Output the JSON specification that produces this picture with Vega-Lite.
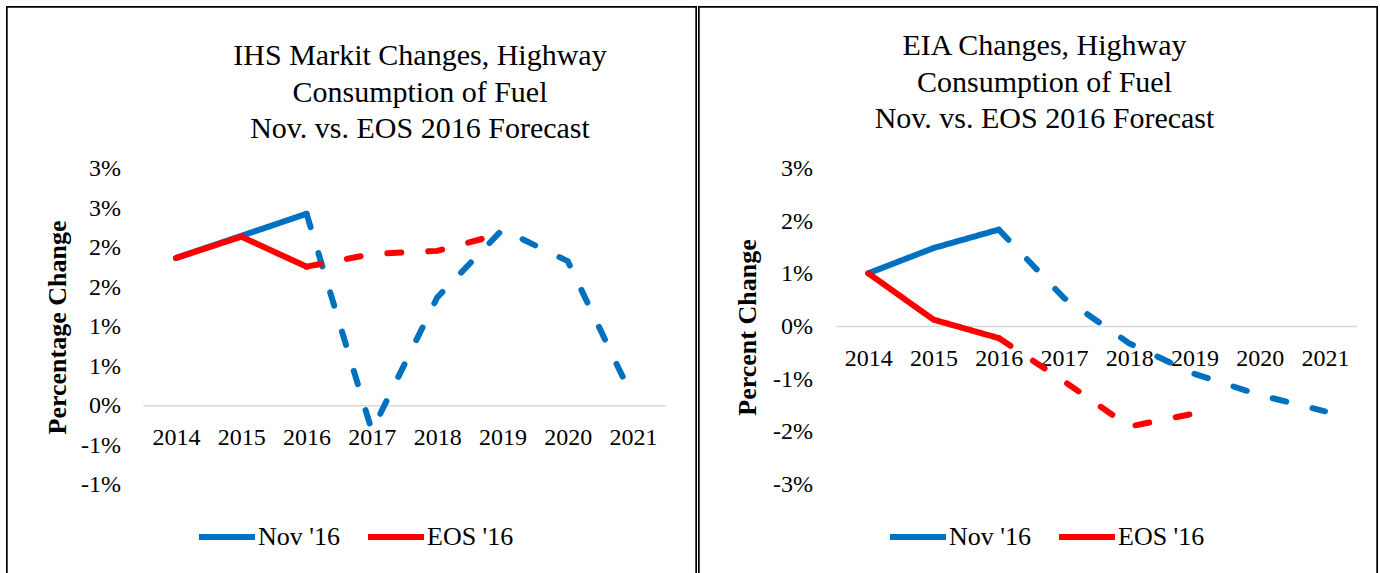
{
  "$schema": "https://vega.github.io/schema/vega-lite/v6.json",
  "background": "white",
  "padding": {"left": 6, "top": 6, "right": 2, "bottom": 0},
  "spacing": 1,
  "config": {
    "view": {"stroke": null},
    "font": "Liberation Serif",
    "axis": {"labelFont": "Liberation Serif", "titleFont": "Liberation Serif", "labelColor": "#000000", "titleColor": "#000000", "grid": false, "domain": false, "ticks": false, "tickSize": 0},
    "title": {"font": "Liberation Serif", "fontSize": 30, "fontWeight": "normal", "color": "#000000", "lineHeight": 36.5, "anchor": "middle", "frame": "group"},
    "legend": {"labelFont": "Liberation Serif", "labelColor": "#000000"}
  },
  "datasets": {
    "ihs": [
      {"series": "Nov '16", "part": "actual", "year": 2014, "value": 1.87},
      {"series": "Nov '16", "part": "actual", "year": 2015, "value": 2.15},
      {"series": "Nov '16", "part": "actual", "year": 2016, "value": 2.43},
      {"series": "Nov '16", "part": "forecast", "year": 2016, "value": 2.43},
      {"series": "Nov '16", "part": "forecast", "year": 2017, "value": -0.32},
      {"series": "Nov '16", "part": "forecast", "year": 2018, "value": 1.37},
      {"series": "Nov '16", "part": "forecast", "year": 2019, "value": 2.23},
      {"series": "Nov '16", "part": "forecast", "year": 2020, "value": 1.83},
      {"series": "Nov '16", "part": "forecast", "year": 2021, "value": 0.09},
      {"series": "EOS '16", "part": "actual", "year": 2014, "value": 1.87},
      {"series": "EOS '16", "part": "actual", "year": 2015, "value": 2.14},
      {"series": "EOS '16", "part": "actual", "year": 2016, "value": 1.76},
      {"series": "EOS '16", "part": "forecast", "year": 2016, "value": 1.76},
      {"series": "EOS '16", "part": "forecast", "year": 2017, "value": 1.92},
      {"series": "EOS '16", "part": "forecast", "year": 2018, "value": 1.96},
      {"series": "EOS '16", "part": "forecast", "year": 2019, "value": 2.18}
    ],
    "eia": [
      {"series": "Nov '16", "part": "actual", "year": 2014, "value": 1.01},
      {"series": "Nov '16", "part": "actual", "year": 2015, "value": 1.49},
      {"series": "Nov '16", "part": "actual", "year": 2016, "value": 1.84},
      {"series": "Nov '16", "part": "forecast", "year": 2016, "value": 1.84},
      {"series": "Nov '16", "part": "forecast", "year": 2017, "value": 0.54},
      {"series": "Nov '16", "part": "forecast", "year": 2018, "value": -0.32},
      {"series": "Nov '16", "part": "forecast", "year": 2019, "value": -0.90},
      {"series": "Nov '16", "part": "forecast", "year": 2020, "value": -1.30},
      {"series": "Nov '16", "part": "forecast", "year": 2021, "value": -1.61},
      {"series": "EOS '16", "part": "actual", "year": 2014, "value": 1.01},
      {"series": "EOS '16", "part": "actual", "year": 2015, "value": 0.13},
      {"series": "EOS '16", "part": "actual", "year": 2016, "value": -0.22},
      {"series": "EOS '16", "part": "forecast", "year": 2016, "value": -0.22},
      {"series": "EOS '16", "part": "forecast", "year": 2017, "value": -1.04},
      {"series": "EOS '16", "part": "forecast", "year": 2018, "value": -1.90},
      {"series": "EOS '16", "part": "forecast", "year": 2019, "value": -1.65}
    ]
  },
  "resolve": {"scale": {"x": "independent", "y": "independent", "color": "independent", "strokeDash": "independent"}, "legend": {"color": "independent"}},
  "hconcat": [
    {
      "width": 691,
      "height": 567,
      "title": {"text": ["IHS Markit Changes, Highway", "Consumption of Fuel", "Nov. vs. EOS 2016 Forecast"], "offset": -138, "dx": 68.5},
      "data": {"name": "ihs"},
      "layer": [
        {
          "data": {"values": [{"item": "zero line"}]},
          "mark": {"type": "rule", "color": "#D9D9D9", "strokeWidth": 1.5},
          "encoding": {
            "x": {"datum": 2013.5, "type": "quantitative", "scale": {"domain": [2011.397, 2021.979], "nice": false, "zero": false}},
            "x2": {"datum": 2021.5},
            "y": {"datum": 0, "type": "quantitative", "scale": {"domain": [-2.118, 5.06], "nice": false, "zero": false}}
          }
        },
        {
          "transform": [{"filter": {"field": "series", "equal": "Nov '16"}}],
          "mark": {"type": "line", "strokeWidth": 6, "strokeCap": "round"},
          "encoding": {
            "x": {"field": "year", "type": "quantitative", "scale": {"domain": [2011.397, 2021.979], "nice": false, "zero": false},
                  "axis": {"values": [2014, 2015, 2016, 2017, 2018, 2019, 2020, 2021], "format": "d", "offset": -167.3, "labelPadding": 32, "labelBaseline": "middle", "labelFontSize": 24, "title": null}},
            "y": {"field": "value", "type": "quantitative", "scale": {"domain": [-2.118, 5.06], "nice": false, "zero": false},
                  "axis": {"values": [-1, -0.5, 0, 0.5, 1, 1.5, 2, 2.5, 3], "labelExpr": "(datum.value < 0 ? '-' : '') + round(abs(datum.value)) + '%'", "offset": -114.5, "labelPadding": 0, "labelFontSize": 24, "title": "Percentage Change", "titleFontSize": 26, "titleFontWeight": "bold", "titleX": -63.5, "titleY": 321, "titleAngle": -90, "titleBaseline": "middle", "titleAlign": "center"}},
            "color": {"field": "series", "type": "nominal", "scale": {"domain": ["Nov '16", "EOS '16"], "range": ["#0070C0", "#FF0000"]},
                      "legend": {"orient": "none", "legendX": 190, "legendY": 500, "direction": "horizontal", "title": null, "symbolType": "stroke", "symbolSize": 3136, "symbolStrokeWidth": 6, "labelFontSize": 26, "labelOffset": 0, "columnPadding": 16, "padding": 0}},
            "strokeDash": {"field": "part", "type": "nominal", "scale": {"domain": ["actual", "forecast"], "range": [[1, 0], [14, 27]]}, "legend": null}
          }
        },
        {
          "transform": [{"filter": {"field": "series", "equal": "EOS '16"}}],
          "mark": {"type": "line", "strokeWidth": 6, "strokeCap": "round"},
          "encoding": {
            "x": {"field": "year", "type": "quantitative", "scale": {"domain": [2011.397, 2021.979], "nice": false, "zero": false}},
            "y": {"field": "value", "type": "quantitative", "scale": {"domain": [-2.118, 5.06], "nice": false, "zero": false}},
            "color": {"field": "series", "type": "nominal", "scale": {"domain": ["Nov '16", "EOS '16"], "range": ["#0070C0", "#FF0000"]}},
            "strokeDash": {"field": "part", "type": "nominal", "scale": {"domain": ["actual", "forecast"], "range": [[1, 0], [14, 27]]}, "legend": null}
          }
        },
        {
          "data": {"values": [{"item": "frame"}]},
          "mark": {"type": "rect", "filled": false, "stroke": "#000000", "strokeWidth": 3.4, "clip": true},
          "encoding": {
            "x": {"datum": 2011.397, "type": "quantitative"},
            "x2": {"datum": 2021.979},
            "y": {"datum": 5.06, "type": "quantitative"},
            "y2": {"datum": -3}
          }
        }
      ]
    },
    {
      "width": 680,
      "height": 567,
      "title": {"text": ["EIA Changes, Highway", "Consumption of Fuel", "Nov. vs. EOS 2016 Forecast"], "offset": -128, "dx": 6.5},
      "data": {"name": "eia"},
      "layer": [
        {
          "data": {"values": [{"item": "zero line"}]},
          "mark": {"type": "rule", "color": "#D9D9D9", "strokeWidth": 1.5},
          "encoding": {
            "x": {"datum": 2013.5, "type": "quantitative", "scale": {"domain": [2011.39, 2021.813], "nice": false, "zero": false}},
            "x2": {"datum": 2021.5},
            "y": {"datum": 0, "type": "quantitative", "scale": {"domain": [-4.68, 6.085], "nice": false, "zero": false}}
          }
        },
        {
          "transform": [{"filter": {"field": "series", "equal": "Nov '16"}}],
          "mark": {"type": "line", "strokeWidth": 6, "strokeCap": "round"},
          "encoding": {
            "x": {"field": "year", "type": "quantitative", "scale": {"domain": [2011.39, 2021.813], "nice": false, "zero": false},
                  "axis": {"values": [2014, 2015, 2016, 2017, 2018, 2019, 2020, 2021], "format": "d", "offset": -246.5, "labelPadding": 32, "labelBaseline": "middle", "labelFontSize": 24, "title": null}},
            "y": {"field": "value", "type": "quantitative", "scale": {"domain": [-4.68, 6.085], "nice": false, "zero": false},
                  "axis": {"values": [-3, -2, -1, 0, 1, 2, 3], "labelExpr": "(datum.value < 0 ? '-' : '') + round(abs(datum.value)) + '%'", "offset": -114.5, "labelPadding": 0, "labelFontSize": 24, "title": "Percent Change", "titleFontSize": 26, "titleFontWeight": "bold", "titleX": -65.5, "titleY": 321, "titleAngle": -90, "titleBaseline": "middle", "titleAlign": "center"}},
            "color": {"field": "series", "type": "nominal", "scale": {"domain": ["Nov '16", "EOS '16"], "range": ["#0070C0", "#FF0000"]},
                      "legend": {"orient": "none", "legendX": 189, "legendY": 500, "direction": "horizontal", "title": null, "symbolType": "stroke", "symbolSize": 3136, "symbolStrokeWidth": 6, "labelFontSize": 26, "labelOffset": 0, "columnPadding": 16, "padding": 0}},
            "strokeDash": {"field": "part", "type": "nominal", "scale": {"domain": ["actual", "forecast"], "range": [[1, 0], [14, 27]]}, "legend": null}
          }
        },
        {
          "transform": [{"filter": {"field": "series", "equal": "EOS '16"}}],
          "mark": {"type": "line", "strokeWidth": 6, "strokeCap": "round"},
          "encoding": {
            "x": {"field": "year", "type": "quantitative", "scale": {"domain": [2011.39, 2021.813], "nice": false, "zero": false}},
            "y": {"field": "value", "type": "quantitative", "scale": {"domain": [-4.68, 6.085], "nice": false, "zero": false}},
            "color": {"field": "series", "type": "nominal", "scale": {"domain": ["Nov '16", "EOS '16"], "range": ["#0070C0", "#FF0000"]}},
            "strokeDash": {"field": "part", "type": "nominal", "scale": {"domain": ["actual", "forecast"], "range": [[1, 0], [14, 27]]}, "legend": null}
          }
        },
        {
          "data": {"values": [{"item": "frame"}]},
          "mark": {"type": "rect", "filled": false, "stroke": "#000000", "strokeWidth": 3.4, "clip": true},
          "encoding": {
            "x": {"datum": 2011.39, "type": "quantitative"},
            "x2": {"datum": 2021.813},
            "y": {"datum": 6.085, "type": "quantitative"},
            "y2": {"datum": -6}
          }
        }
      ]
    }
  ]
}
